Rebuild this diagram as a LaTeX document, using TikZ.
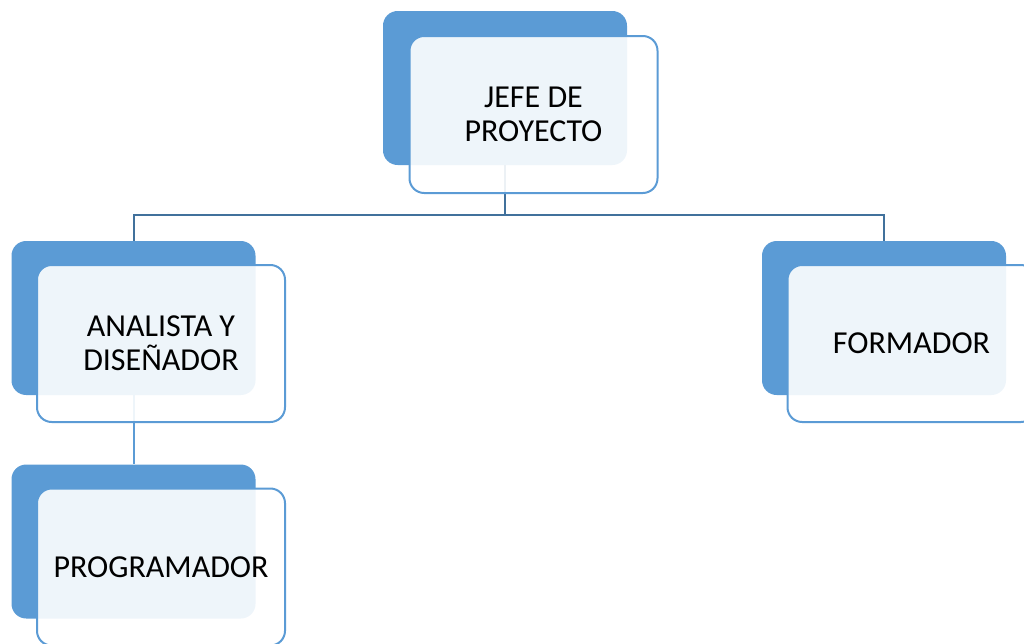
\documentclass[tikz,border=0pt]{standalone}
\usepackage{fontspec}
\setmainfont{Carlito}
\usepackage{tikz}
\definecolor{officeblue}{HTML}{5B9BD5}
\definecolor{linkblue}{HTML}{41719C}

\begin{document}
\begin{tikzpicture}
[x=0.75pt,y=-0.75pt,
 back/.style={fill=officeblue,rounded corners=11pt,inner sep=0pt,
   minimum width=183pt,minimum height=115.5pt},
 front/.style={draw=officeblue,line width=1.5pt,fill=white,fill opacity=0.9,
   text opacity=1,rounded corners=11pt,inner sep=0pt,align=center,
   minimum width=186pt,minimum height=117.75pt,
   font=\fontsize{24}{25.5}\selectfont},
 link/.style={draw=linkblue,line width=1.5pt}]
\useasboundingbox (0,0) rectangle (1024,643);

% back panels
\node[back] (jefeback) at (505,88) {};
\node[back] (analistaback) at (133.5,318) {};
\node[back] (formadorback) at (884,318) {};
\node[back] (programadorback) at (133.5,541.5) {};

% connectors
\coordinate (bus) at (505,215);
\draw[link] (jefeback.south) -- (bus);
\draw[link] (analistaback.north) |- (bus) -| (formadorback.north);
\draw[link,draw=officeblue] (analistaback.south) -- (programadorback.north);

% front panels
\node[front] (jefe) at (533.5,114.5) {JEFE DE\\PROYECTO};
\node[front] (analista) at (161,343.5) {ANALISTA Y\\DISEÑADOR};
\node[front] (formador) at (911.5,343.5) {FORMADOR};
\node[front] (programador) at (161,567) {PROGRAMADOR};
\end{tikzpicture}
\end{document}
